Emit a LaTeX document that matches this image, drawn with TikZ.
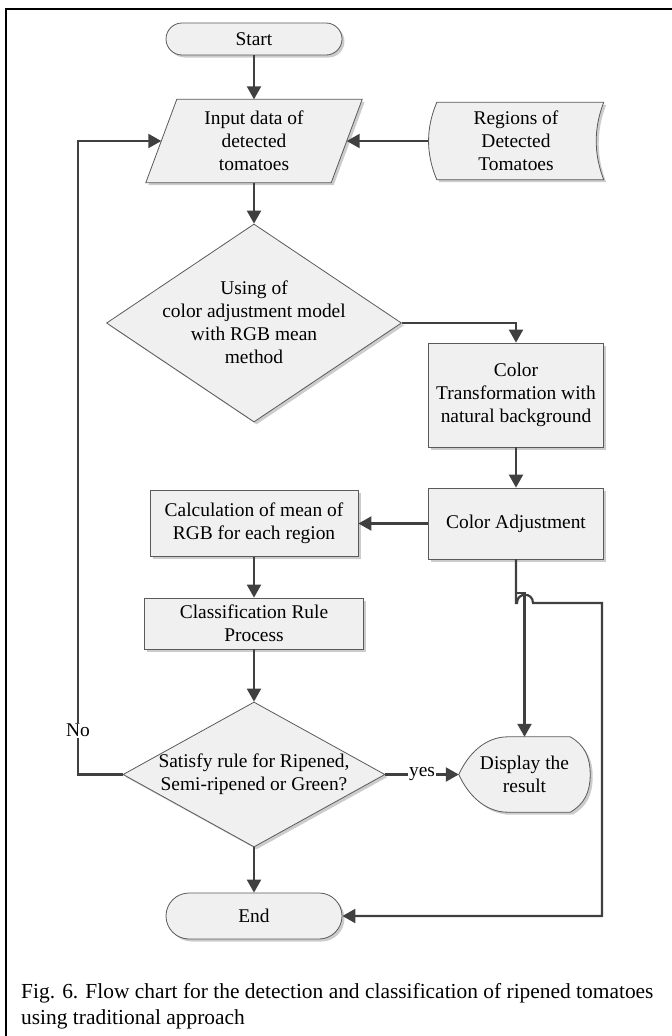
\documentclass[tikz,border=0pt]{standalone}
\usepackage{fontspec}
\setmainfont{Liberation Serif}
\usetikzlibrary{arrows.meta,shapes.geometric,shapes.misc,shadows,calc,backgrounds}
\definecolor{linec}{RGB}{64,64,64}
\definecolor{bord}{RGB}{90,90,90}
\definecolor{boxf}{RGB}{240,240,240}
\begin{document}
\begin{tikzpicture}[x=1bp,y=-1bp,
  shp/.style={draw=bord, line width=0.8bp, fill=boxf,
    drop shadow={shadow xshift=2.5bp,shadow yshift=-2.5bp,fill=black!20,opacity=1}},
  txt/.style={font=\fontsize{19.5}{23}\selectfont, align=center, inner sep=0pt},
  box/.style={shp, rectangle, txt},
  term/.style={shp, rounded rectangle, txt, minimum width=176bp},
  dia/.style={shp, diamond, inner sep=0pt},
  hold/.style={rectangle, txt, draw=none},
  arr/.style={draw=linec, line width=2.2bp, -{Triangle[length=13bp,width=14bp]}},
  lbl/.style={txt, fill=white, inner sep=1bp},
  capt/.style={font=\fontsize{21.5}{26}\selectfont, inner sep=0pt, anchor=base west}]
\useasboundingbox (0,0) rectangle (672,1036);
% frame
\draw[line width=2bp] (6,1036) -- (6,9) -- (672,9);
% nodes
\node[term, minimum height=32bp] (start) at (254,39) {Start};
\node[hold, minimum width=185bp, minimum height=83bp] (inp) at (254,141) {Input data of\\detected\\tomatoes};
\node[hold, minimum width=175bp, minimum height=77bp] (reg) at (516,141) {Regions of\\Detected\\Tomatoes};
\node[dia, minimum width=295bp, minimum height=198bp] (d1) at (254,323) {};
\node[txt] (d1t) at (254,322.5) {Using of\\color adjustment model\\with RGB mean\\method};
\node[box, minimum width=175bp, minimum height=104bp] (ct) at (516,395) {Color\\Transformation with\\natural background};
\node[box, minimum width=175bp, minimum height=71bp] (ca) at (516,523.5) {Color Adjustment};
\node[box, minimum width=208bp, minimum height=66bp] (calc) at (254,523.5) {Calculation of mean of\\RGB for each region};
\node[box, minimum width=219bp, minimum height=51bp] (cls) at (254,623.5) {Classification Rule\\Process};
\node[dia, minimum width=262bp, minimum height=145bp] (d2) at (254,774.5) {};
\node[txt] (d2t) at (254,774.5) {Satisfy rule for Ripened,\\Semi-ripened or Green?};
\node[hold, minimum width=131bp, minimum height=75bp] (disp) at (524.5,774.5) {Display the\\result};
\node[term, minimum height=46bp] (end) at (254,916) {End};
% custom outlines
\begin{scope}[on background layer]
\path[shp] ($(inp.north west)+(15.5,0)$) -- ($(inp.north east)+(15.5,0)$)
  -- ($(inp.south east)+(-15.5,0)$) -- ($(inp.south west)+(-15.5,0)$) -- cycle;
\path[shp] ($(reg.north west)+(8.5,0)$) -- (reg.north east)
  .. controls ($(reg.north east)+(-10,26)$) and ($(reg.south east)+(-10,-26)$) .. (reg.south east)
  -- ($(reg.south west)+(8.5,0)$)
  .. controls ($(reg.south west)+(-2.5,-26)$) and ($(reg.north west)+(-2.5,26)$) .. cycle;
\path[shp] ($(disp.north west)+(49,0)$) -- ($(disp.north east)+(-20,0)$)
  .. controls ($(disp.north east)+(-6,8)$) and ($(disp.east)+(0,-18)$) .. (disp.east)
  .. controls ($(disp.east)+(0,18)$) and ($(disp.south east)+(-6,-8)$) .. ($(disp.south east)+(-20,0)$)
  -- ($(disp.south west)+(49,0)$)
  .. controls ($(disp.south west)+(26,0)$) and ($(disp.west)+(9,20)$) .. (disp.west)
  .. controls ($(disp.west)+(9,-20)$) and ($(disp.north west)+(26,0)$) .. cycle;
\end{scope}
% connectors
\coordinate (hy1) at (0,593);
\coordinate (hy2) at (0,603);
\coordinate (rt) at (602,603);
\coordinate (fb) at (78,774.5);
\draw[arr] (start.south) -- (start.south |- inp.north);
\draw[arr] (reg.west) -- (inp.east);
\draw[arr] (d1.north |- inp.south) -- (d1.north);
\draw[arr] (d1.east) -| (ct.north);
\draw[arr] (ct.south) -- (ca.north);
\draw[arr] (ca.west) -- (calc.east);
\draw[arr] (calc.south) -- (cls.north);
\draw[arr] (cls.south) -- (d2.north);
\draw[arr] (d2.south) -- (end.north);
\draw[arr] (d2.east) -- node[lbl]{yes} (disp.west);
\draw[arr] (d2.west) -- (fb) -- node[lbl, pos=0.07]{No} (fb |- inp.west) -- (inp.west);
\draw[arr] (ca.south) -- (ca.south |- hy1) -- (disp.north |- hy1) -- (disp.north);
\draw[arr] (ca.south) -- (ca.south |- hy2) -- ++(1,0)
  .. controls +(0,-11) and +(0,-11) .. ++(16,0) -- (rt) -- (rt |- end.east) -- (end.east);
% caption
\node[capt] (cap1) at (21,998) {Fig. 6. Flow chart for the detection and classification of ripened tomatoes};
\node[capt] (cap2) at (21,1024) {using traditional approach};
\end{tikzpicture}
\end{document}
